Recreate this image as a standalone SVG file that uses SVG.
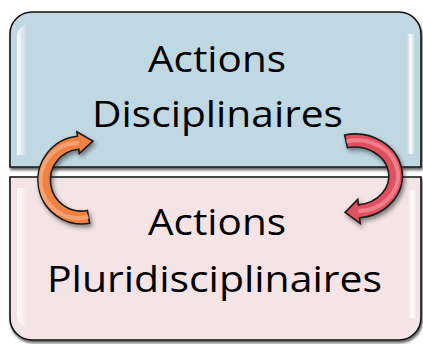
<svg xmlns="http://www.w3.org/2000/svg" width="423" height="344" viewBox="0 0 423 344">
  <style>
    .box { stroke: #111; stroke-width: 1.6; }
    .lbl { font-family: "Open Sans", "DejaVu Sans", sans-serif; font-size: 37px; fill: #000; text-anchor: middle; }
    .arrow { stroke: #1a1a1a; stroke-width: 1.6; stroke-linejoin: miter; }
  </style>
  <defs>
    <filter id="boxShadow" x="-5%" y="-5%" width="110%" height="115%">
      <feDropShadow dx="1" dy="2.5" stdDeviation="0.8" flood-color="#444" flood-opacity="0.8"/>
    </filter>
    <filter id="arrowShadow" x="-30%" y="-30%" width="160%" height="160%">
      <feDropShadow dx="2" dy="3" stdDeviation="2" flood-color="#333" flood-opacity="0.55"/>
    </filter>
    <linearGradient id="hlLeft" x1="0" y1="0" x2="1" y2="0">
      <stop offset="0" stop-color="#fff" stop-opacity="0.95"/>
      <stop offset="1" stop-color="#fff" stop-opacity="0"/>
    </linearGradient>
    <linearGradient id="hlRight" x1="0" y1="0" x2="1" y2="0">
      <stop offset="0" stop-color="#fff" stop-opacity="0"/>
      <stop offset="0.5" stop-color="#fff" stop-opacity="0.95"/>
      <stop offset="1" stop-color="#fff" stop-opacity="0.2"/>
    </linearGradient>
  </defs>
  <rect width="423" height="344" fill="#fff"/>

  <g id="node-disciplinaires">
    <path class="box" filter="url(#boxShadow)" fill="#c0d8e2" d="M10,167 L10,34 A22,22 0 0 1 32,12 L399,12 A22,22 0 0 1 421,34 L421,167 Z"/>
    <path fill="url(#hlLeft)" d="M17,155 L17,36 A14,14 0 0 1 27,24 L27,155 Z"/>
    <rect x="407" y="34" width="7" height="120" fill="url(#hlRight)"/>
    <text class="lbl" x="217" y="72" textLength="138" lengthAdjust="spacingAndGlyphs">Actions</text>
    <text class="lbl" x="217.5" y="127" textLength="251" lengthAdjust="spacingAndGlyphs">Disciplinaires</text>
  </g>

  <g id="node-pluridisciplinaires">
    <path class="box" filter="url(#boxShadow)" fill="#f4e4e6" d="M10,177 L421,177 L421,318 A22,22 0 0 1 399,340 L32,340 A22,22 0 0 1 10,318 Z"/>
    <path fill="url(#hlLeft)" d="M17,188 L27,188 L27,328 A14,14 0 0 1 17,316 Z"/>
    <rect x="408" y="190" width="8" height="128" fill="url(#hlRight)"/>
    <text class="lbl" x="217" y="235" textLength="138" lengthAdjust="spacingAndGlyphs">Actions</text>
    <text class="lbl" x="214.5" y="292" textLength="335" lengthAdjust="spacingAndGlyphs">Pluridisciplinaires</text>
  </g>

  <g id="connectors">
    <g id="arrow-up" filter="url(#arrowShadow)">
      <path class="arrow" fill="#ef8243" d="M89.6,223.3 A44,44 0 1 1 77.4,136.2 L76.9,131.8 L93,141.1 L79.2,153.6 L78.8,149.2 A31,31 0 1 0 87.4,210.5 Z"/>
      <path fill="none" stroke="#f7a97a" stroke-width="4" stroke-opacity="0.8" d="M88.5,216.5 A37.5,37.5 0 1 1 79,143"/>
    </g>
    <g id="arrow-down" filter="url(#arrowShadow)">
      <path class="arrow" fill="#e2505e" d="M344.6,135 A47.5,42 0 1 1 359.6,217.8 L360.2,223.3 L345.1,212.5 L357.8,199.4 L358.4,204.9 A34.5,29 0 1 0 347.4,147.7 Z"/>
      <path fill="none" stroke="#f08a95" stroke-width="4" stroke-opacity="0.8" d="M346.5,141.5 A41,35.5 0 1 1 358,211.3"/>
    </g>
  </g>
</svg>
